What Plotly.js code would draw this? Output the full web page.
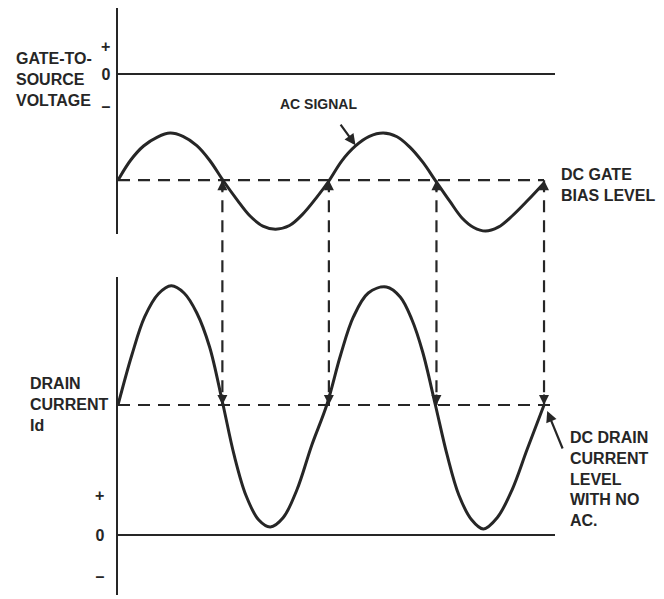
<!DOCTYPE html>
<html>
<head>
<meta charset="utf-8">
<script src="https://cdn.plot.ly/plotly-3.0.1.min.js"></script>
<style>html,body{margin:0;padding:0;background:#fff;}#chart{width:664px;height:599px;}</style>
</head>
<body>
<div id="chart"></div>
<script>
// ---- data (time in half-cycles, gate voltage and drain current in arbitrary units) ----
const timeGate = [0, 0.12, 0.24, 0.37, 0.49, 0.61, 0.74, 0.86, 0.99, 1.12, 1.24, 1.36, 1.48, 1.61, 1.73, 1.86, 1.98,
                  2.10, 2.23, 2.36, 2.49, 2.62, 2.74, 2.86, 2.99, 3.12, 3.23, 3.34, 3.45, 3.57, 3.70, 3.85, 4.00];
const gateVoltage = [-3.79, -3.07, -2.57, -2.25, -2.11, -2.23, -2.56, -3.08, -3.82, -4.50, -5.07, -5.43, -5.54, -5.41, -5.02, -4.43, -3.82,
                     -3.11, -2.57, -2.23, -2.11, -2.24, -2.61, -3.14, -3.86, -4.57, -5.14, -5.48, -5.61, -5.47, -5.07, -4.50, -3.89];
const timeDrain = [0, 0.13, 0.25, 0.38, 0.50, 0.62, 0.74, 0.86, 0.98, 1.09, 1.20, 1.32, 1.43, 1.55, 1.68, 1.82, 1.96,
                   2.09, 2.21, 2.35, 2.52, 2.65, 2.76, 2.86, 2.98, 3.09, 3.20, 3.32, 3.43, 3.56, 3.70, 3.84, 4.00];
const drainCurrent = [3.25, 4.50, 5.45, 6.03, 6.23, 6.05, 5.55, 4.70, 3.33, 2.00, 1.00, 0.38, 0.20, 0.43, 1.13, 2.25, 3.25,
                      4.50, 5.45, 6.05, 6.20, 5.95, 5.38, 4.58, 3.25, 2.00, 1.00, 0.38, 0.15, 0.43, 1.13, 2.13, 3.25];
const gateBiasLevel = -3.79;
const gateBiasSpan = [0, 4.0];
const drainDCLevel = 3.25;
const drainDCSpan = [0, 4.08];
const crossingTimes = [0.98, 1.98, 2.99, 4.0];
const tickText = ['+', '0', '\u2013'];
const gateTickVals = [1, 0, -1.14];
const drainTickVals = [1, 0, -1.03];

// ---- styling ----
const INK = '#262626';
const FONT = 'Liberation Sans, Arial, sans-serif';
const dashStyle = '12px,8px';

const traces = [
  {x: timeGate, y: gateVoltage, yaxis: 'y', mode: 'lines', line: {color: INK, width: 3, shape: 'spline', smoothing: 1}, hoverinfo: 'skip'},
  {x: gateBiasSpan, y: [gateBiasLevel, gateBiasLevel], yaxis: 'y', mode: 'lines', line: {color: INK, width: 2.2, dash: dashStyle}, hoverinfo: 'skip'},
  {x: timeDrain, y: drainCurrent, yaxis: 'y2', mode: 'lines', line: {color: INK, width: 3, shape: 'spline', smoothing: 1}, hoverinfo: 'skip'},
  {x: drainDCSpan, y: [drainDCLevel, drainDCLevel], yaxis: 'y2', mode: 'lines', line: {color: INK, width: 2.2, dash: dashStyle}, hoverinfo: 'skip'}
];

const axisCommon = {
  showline: true, linewidth: 2.5, linecolor: INK,
  zeroline: true, zerolinewidth: 2.5, zerolinecolor: INK,
  showgrid: false, ticks: '', ticktext: tickText,
  tickfont: {family: FONT, size: 16, color: INK, weight: 'bold'},
  fixedrange: true
};

const layout = {
  width: 664, height: 599,
  margin: {l: 118, r: 109, t: 0, b: 0, pad: 0},
  paper_bgcolor: '#ffffff', plot_bgcolor: '#ffffff',
  showlegend: false,
  xaxis: {range: [0, 4.103], showline: false, showgrid: false, zeroline: false, showticklabels: false, ticks: '', fixedrange: true},
  yaxis: Object.assign({}, axisCommon, {domain: [0.6093, 0.9866], range: [-5.714, 2.357], tickvals: gateTickVals, ticklabelstandoff: 2}),
  yaxis2: Object.assign({}, axisCommon, {domain: [0.0067, 0.5376], range: [-1.5, 6.45], anchor: 'x', tickvals: drainTickVals, ticklabelstandoff: 8}),
  annotations: [],
  shapes: []
};

function toPaper(axName, v) {
  const a = layout[axName];
  return a.domain[0] + (v - a.range[0]) / (a.range[1] - a.range[0]) * (a.domain[1] - a.domain[0]);
}

// vertical dashed connectors from the gate bias crossings to the drain DC level
crossingTimes.forEach(function (t) {
  layout.shapes.push({type: 'line', xref: 'x', yref: 'paper', x0: t, x1: t,
    y0: toPaper('yaxis', gateBiasLevel), y1: toPaper('yaxis2', drainDCLevel),
    line: {color: INK, width: 2.2, dash: dashStyle}});
  layout.annotations.push({xref: 'x', yref: 'y', x: t, y: gateBiasLevel, text: '', showarrow: true,
    ax: 0, ay: 12, arrowhead: 2, arrowsize: 1, arrowwidth: 2, arrowcolor: INK});
  layout.annotations.push({xref: 'x', yref: 'y2', x: t, y: drainDCLevel, text: '', showarrow: true,
    ax: 0, ay: -12, arrowhead: 2, arrowsize: 1, arrowwidth: 2, arrowcolor: INK});
});

const labelFont = {family: FONT, size: 16, color: INK, weight: 'bold'};
layout.annotations.push(
  {xref: 'paper', yref: 'y', x: -0.238, y: -0.2, xanchor: 'left', yanchor: 'middle', align: 'left', showarrow: false,
   text: 'GATE-TO-<br>SOURCE<br>VOLTAGE', font: labelFont},
  {xref: 'paper', yref: 'y2', x: -0.206, y: drainDCLevel, xanchor: 'left', yanchor: 'middle', align: 'left', showarrow: false,
   text: 'DRAIN<br>CURRENT<br>Id', font: labelFont},
  {xref: 'paper', yref: 'y', x: 1.009, y: -3.96, xanchor: 'left', yanchor: 'middle', align: 'left', showarrow: false,
   text: 'DC GATE<br>BIAS LEVEL', font: labelFont},
  {xref: 'paper', yref: 'y2', x: 1.03, y: 1.39, xanchor: 'left', yanchor: 'middle', align: 'left', showarrow: false,
   text: 'DC DRAIN<br>CURRENT<br>LEVEL<br>WITH NO<br>AC.', font: labelFont},
  {xref: 'x', yref: 'y', x: 1.88, y: -1.07, xanchor: 'center', yanchor: 'middle', showarrow: false,
   text: 'AC SIGNAL', font: {family: FONT, size: 14, color: INK, weight: 'bold'}},
  {xref: 'x', yref: 'y', x: 2.23, y: -2.54, text: '', showarrow: true, ax: -16, ay: -22,
   arrowhead: 2, arrowsize: 1, arrowwidth: 2.2, arrowcolor: INK},
  {xref: 'x', yref: 'y2', x: 4.03, y: 3.1, text: '', showarrow: true, ax: 16, ay: 39,
   arrowhead: 2, arrowsize: 1, arrowwidth: 2.2, arrowcolor: INK}
);

Plotly.newPlot('chart', traces, layout, {staticPlot: true, displayModeBar: false});
</script>
</body>
</html>
